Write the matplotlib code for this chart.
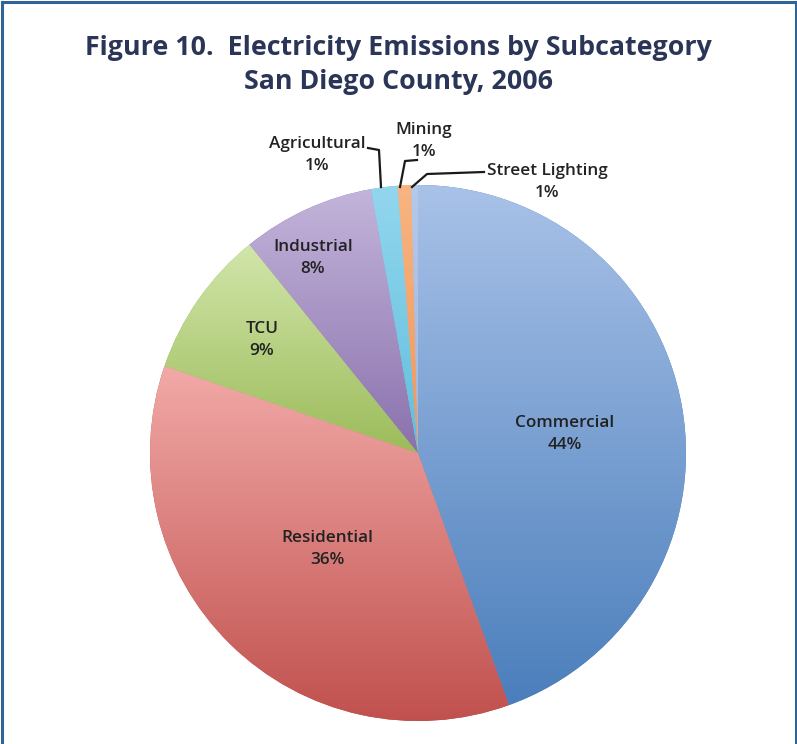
import numpy as np
import matplotlib
matplotlib.use("Agg")
import matplotlib.pyplot as plt
from matplotlib.colors import to_rgb
from matplotlib.lines import Line2D

# ---- data ----
categories = ["Commercial", "Residential", "TCU", "Industrial",
              "Agricultural", "Mining", "Street Lighting"]
values = [44.4, 35.7, 8.9, 8.0, 1.6, 0.8, 0.4]
pct_labels = ["44%", "36%", "9%", "8%", "1%", "1%", "1%"]

# ---- styles ----
light_cols = ["#a9c2e8", "#f2aaa8", "#d2e6ab", "#c3b5db", "#93d6ee", "#f8b582", "#b5c9ea"]
dark_cols = ["#4a7ebb", "#c0504d", "#9bbb59", "#8a70ac", "#5fbfdc", "#f0955a", "#9fb6de"]

W, H = 797, 744
fig = plt.figure(figsize=(W / 100, H / 100), dpi=100)
fig.patch.set_facecolor("white")

cx, cy, R = 418, 453, 268
ax = fig.add_axes([(cx - R) / W, (H - cy - R) / H, 2 * R / W, 2 * R / H])

wedges, _ = ax.pie(values, startangle=90, counterclock=False, radius=1.0,
                   colors=dark_cols, wedgeprops=dict(linewidth=0))
ax.set_aspect("equal")
ax.axis("off")

# gradient fill per wedge (light top -> dark bottom)
for w, lc, dc in zip(wedges, light_cols, dark_cols):
    th1, th2 = np.deg2rad(w.theta1), np.deg2rad(w.theta2)
    ts = np.linspace(th1, th2, 200)
    ys = np.concatenate([np.sin(ts), [0]])
    xs = np.concatenate([np.cos(ts), [0]])
    y0, y1 = ys.min(), ys.max()
    x0, x1 = xs.min(), xs.max()
    t = np.linspace(0, 1, 256)[:, None]
    a, b = np.array(to_rgb(lc)), np.array(to_rgb(dc))
    grad = a[None, :] * (1 - t) + b[None, :] * t
    img = np.repeat(grad[:, None, :], 2, axis=1)
    im = ax.imshow(img, extent=[x0 - 0.01, x1 + 0.01, y0 - 0.01, y1 + 0.01],
                   origin="upper", aspect="auto", interpolation="bilinear", zorder=2)
    im.set_clip_path(w)
ax.set_xlim(-1, 1)
ax.set_ylim(-1, 1)

font = "Open Sans"
tcol = "#222222"
lsize = 12.3
lspace = 1.55
lweight = "semibold"

def px2d(px, py):
    return (px - cx) / R, (cy - py) / R

# inside labels
inside_pos = {0: (565, 434), 1: (327, 549), 2: (262, 340), 3: (313, 258)}
for i, (px, py) in inside_pos.items():
    x, y = px2d(px, py)
    ax.text(x, y, f"{categories[i]}\n{pct_labels[i]}", ha="center", va="center",
            fontsize=lsize, family=font, fontweight=lweight, color=tcol,
            linespacing=lspace, zorder=5)

# outside labels with leader lines
out_text = {4: (317, 155), 5: (424, 141), 6: (547, 182)}
leaders = {4: [(368, 148), (379, 150), (381, 187)],
           5: [(417, 160), (405, 161), (400, 187)],
           6: [(484, 172), (427, 174), (412, 187)]}
for i, (px, py) in out_text.items():
    x, y = px2d(px, py)
    ax.text(x, y, f"{categories[i]}\n{pct_labels[i]}", ha="center", va="center",
            fontsize=lsize, family=font, fontweight=lweight, color=tcol,
            linespacing=lspace, zorder=5)
    pts = np.array([px2d(*p) for p in leaders[i]])
    ax.add_line(Line2D(pts[:, 0], pts[:, 1], color="#1a1a1a", lw=1.6,
                       clip_on=False, zorder=4))

# title
tcol2 = "#2b3557"
fig.text(0.5, 1 - 48 / H, "Figure 10.  Electricity Emissions by Subcategory",
         ha="center", va="center", fontsize=19.3, fontweight="bold",
         family=font, color=tcol2)
fig.text(0.5, 1 - 82 / H, "San Diego County, 2006",
         ha="center", va="center", fontsize=19.3, fontweight="bold",
         family=font, color=tcol2)

# frame
bcol = "#2f6496"
fig.add_artist(Line2D([1.5 / W, 1.5 / W], [0, 1 - 2 / H], color=bcol, lw=2.2))
fig.add_artist(Line2D([1.5 / W, 1 - 1.5 / W], [1 - 2 / H, 1 - 2 / H], color=bcol, lw=2.2))
fig.add_artist(Line2D([1 - 1.5 / W, 1 - 1.5 / W], [0, 1 - 2 / H], color=bcol, lw=2.2))

fig.savefig("out.png", dpi=100)
